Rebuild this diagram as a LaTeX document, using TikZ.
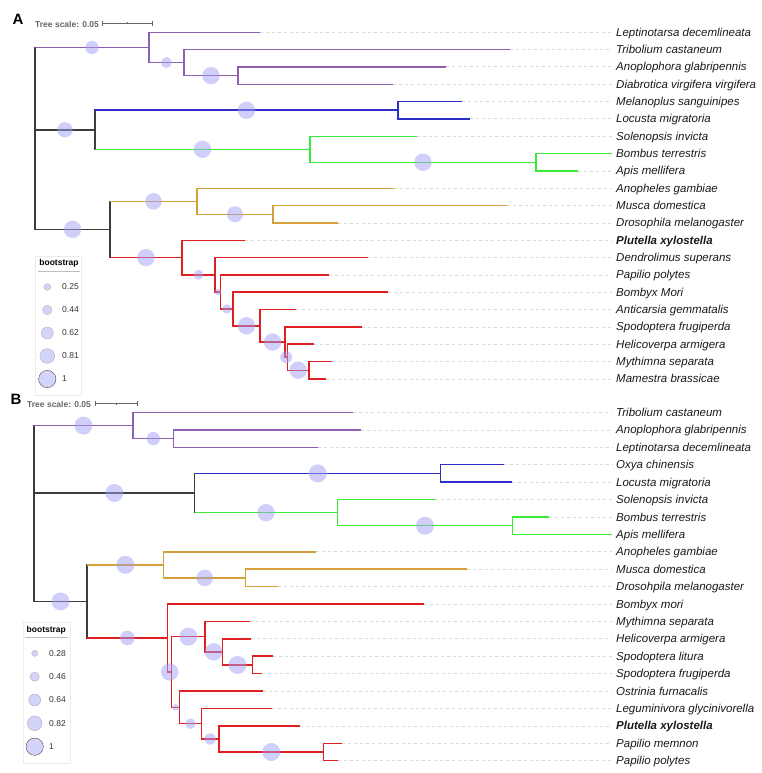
\documentclass[tikz,border=0pt]{standalone}
\usepackage{fontspec}
\setmainfont{Liberation Sans}
\usetikzlibrary{calc}
\definecolor{clpurple}{RGB}{142,95,176}
\definecolor{clblue}{RGB}{45,45,200}
\definecolor{clgreen}{RGB}{55,235,55}
\definecolor{clorange}{RGB}{212,160,58}
\definecolor{clred}{RGB}{224,32,32}
\definecolor{clstem}{RGB}{60,60,60}
\definecolor{bootfill}{RGB}{160,160,245}
\colorlet{leadgray}{gray!30}
\colorlet{scalegray}{black!60}

\begin{document}
\begin{tikzpicture}[x=1pt,y=-1pt,
    branch/.style={line width=1.5pt},
    vbranch/.style={line width=1.5pt,line cap=rect},
    leader/.style={leadgray,line width=0.8pt,dash pattern=on 3pt off 3pt},
    boot/.style={circle,inner sep=0pt,minimum size=#1,fill=bootfill,fill opacity=0.5},
    legboot/.style={circle,inner sep=0pt,minimum size=#1,fill=bootfill,fill opacity=0.45,
      draw=gray!60,draw opacity=1,line width=0.4pt},
    taxon/.style={anchor=base west,inner xsep=4pt,inner ysep=0pt,text=black!90,
      font=\fontsize{11.5}{13}\selectfont\itshape},
    scaletext/.style={anchor=west,inner sep=0pt,text=scalegray,
      font=\bfseries\fontsize{8.5}{10}\selectfont},
    legtext/.style={anchor=west,inner sep=0pt,text=black!80,font=\fontsize{8.5}{10}\selectfont},
    panel/.style={inner sep=0pt,font=\bfseries\fontsize{15}{15}\selectfont}]
  \useasboundingbox (0,0) rectangle (761,773);

  % ---------------- Panel A ----------------
  \node[panel] (labA) at (18,19) {A};
  \node[scaletext] (scA) at (35,24) {Tree scale: 0.05};
  \coordinate (sbA1) at (102,23.5);
  \coordinate (sbA2) at (152,23.5);
  \draw[scalegray,line width=0.6pt] (sbA1) -- (sbA2);
  \draw[scalegray,line width=0.6pt] ($(sbA1)+(0,-2.5)$) -- ($(sbA1)+(0,2.5)$);
  \draw[scalegray,line width=0.6pt] ($(sbA2)+(0,-2.5)$) -- ($(sbA2)+(0,2.5)$);
  \draw[scalegray,line width=0.6pt] ($(sbA1)!0.5!(sbA2)+(0,-1)$) -- ($(sbA1)!0.5!(sbA2)+(0,1)$);

  % Leaves and taxon names
  \foreach \c/\x/\y/\txt in {
      lepA/260/32.3/Leptinotarsa decemlineata,
      triA/510/49.6/Tribolium castaneum,
      anoA/446/66.9/Anoplophora glabripennis,
      diaA/393/84.3/Diabrotica virgifera virgifera,
      melA/462/101.6/Melanoplus sanguinipes,
      locA/470/118.9/Locusta migratoria,
      solA/417/136.3/Solenopsis invicta,
      bomA/612/153.6/Bombus terrestris,
      apiA/578/170.9/Apis mellifera,
      angA/394/188.3/Anopheles gambiae,
      musA/507/205.6/Musca domestica,
      droA/338/222.9/Drosophila melanogaster,
      pluA/245/240.3/\textbf{Plutella xylostella},
      denA/368/257.6/Dendrolimus superans,
      papA/329/274.9/Papilio polytes,
      bmoA/388/292.2/Bombyx Mori,
      antA/296/309.6/Anticarsia gemmatalis,
      sfrA/362/326.9/Spodoptera frugiperda,
      harA/314/344.2/Helicoverpa armigera,
      mseA/332/361.6/Mythimna separata,
      mbrA/326/378.9/Mamestra brassicae}{
    \coordinate (\c) at (\x,\y);
    \node[taxon] (t\c) at (612,\y+4) {\txt};
  }

  % Inner nodes
  \coordinate (rootA) at (35,139);
  \coordinate (pA1) at (149,47.45);
  \coordinate (pA2) at (184,62.6);
  \coordinate (pA3) at (238,75.6);
  \coordinate (kA) at (95,129.8);
  \coordinate (bA) at (398,110.25);
  \coordinate (gA1) at (310,149.3);
  \coordinate (gA2) at (536,162.25);
  \coordinate (hA) at (110,229.4);
  \coordinate (oA1) at (197,201.3);
  \coordinate (oA2) at (273,214.25);
  \coordinate (rA1) at (182,257.55);
  \coordinate (rA2) at (215,274.8);
  \coordinate (rA3) at (220.7,291.95);
  \coordinate (rA4) at (233,309);
  \coordinate (rA5) at (260,325.8);
  \coordinate (rA6) at (285,342.05);
  \coordinate (rA7) at (287.3,357.2);
  \coordinate (rA8) at (309,370.25);

  % ---------------- Panel B ----------------
  \node[panel] (labB) at (16,399) {B};
  \node[scaletext] (scB) at (27,404) {Tree scale: 0.05};
  \coordinate (sbB1) at (95,403.5);
  \coordinate (sbB2) at (137,403.5);
  \draw[scalegray,line width=0.6pt] (sbB1) -- (sbB2);
  \draw[scalegray,line width=0.6pt] ($(sbB1)+(0,-2.5)$) -- ($(sbB1)+(0,2.5)$);
  \draw[scalegray,line width=0.6pt] ($(sbB2)+(0,-2.5)$) -- ($(sbB2)+(0,2.5)$);
  \draw[scalegray,line width=0.6pt] ($(sbB1)!0.5!(sbB2)+(0,-1)$) -- ($(sbB1)!0.5!(sbB2)+(0,1)$);

  \foreach \c/\x/\y/\txt in {
      triB/353/412.5/Tribolium castaneum,
      anoB/361/429.9/Anoplophora glabripennis,
      lepB/317.7/447.3/Leptinotarsa decemlineata,
      oxyB/503.7/464.7/Oxya chinensis,
      locB/512/482.1/Locusta migratoria,
      solB/435/499.6/Solenopsis invicta,
      bomB/549.3/517/Bombus terrestris,
      apiB/612/534.4/Apis mellifera,
      angB/316/551.8/Anopheles gambiae,
      musB/466.7/569.2/Musca domestica,
      droB/278.3/586.6/Drosohpila melanogaster,
      bmoB/423.7/604/Bombyx mori,
      mseB/250/621.4/Mythimna separata,
      harB/251/638.8/Helicoverpa armigera,
      sliB/273.3/656.2/Spodoptera litura,
      sfrB/262.3/673.7/Spodoptera frugiperda,
      ostB/263/691.1/Ostrinia furnacalis,
      legB/272.3/708.5/Leguminivora glycinivorella,
      pluB/300/725.9/\textbf{Plutella xylostella},
      pmeB/342.3/743.3/Papilio memnon,
      ppoB/337.7/760.7/Papilio polytes}{
    \coordinate (\c) at (\x,\y);
    \node[taxon] (t\c) at (612,\y+4) {\txt};
  }

  \coordinate (rootB) at (34,513);
  \coordinate (pB1) at (133,425.55);
  \coordinate (pB2) at (173.7,438.6);
  \coordinate (kB) at (194.7,493);
  \coordinate (bB) at (440.7,473.4);
  \coordinate (gB1) at (337.3,512.65);
  \coordinate (gB2) at (512.7,525.7);
  \coordinate (hB) at (87,601.4);
  \coordinate (oB1) at (163.7,564.85);
  \coordinate (oB2) at (245.7,577.9);
  \coordinate (rB1) at (167.7,638);
  \coordinate (rB2) at (171.7,672);
  \coordinate (rB3) at (205,636.65);
  \coordinate (rB4) at (222.3,651.9);
  \coordinate (rB5) at (252.7,664.95);
  \coordinate (rB6) at (179.3,707.4);
  \coordinate (rB7) at (201.3,723.7);
  \coordinate (rB8) at (219,738.95);
  \coordinate (rB9) at (323.7,752);

  % Leader lines and leaf branches
  \foreach \p/\c/\col in {
      pA1/lepA/clpurple, pA2/triA/clpurple, pA3/anoA/clpurple, pA3/diaA/clpurple,
      bA/melA/clblue, bA/locA/clblue, gA1/solA/clgreen, gA2/bomA/clgreen, gA2/apiA/clgreen,
      oA1/angA/clorange, oA2/musA/clorange, oA2/droA/clorange,
      rA1/pluA/clred, rA2/denA/clred, rA3/papA/clred, rA4/bmoA/clred, rA5/antA/clred,
      rA6/sfrA/clred, rA7/harA/clred, rA8/mseA/clred, rA8/mbrA/clred,
      pB1/triB/clpurple, pB2/anoB/clpurple, pB2/lepB/clpurple,
      bB/oxyB/clblue, bB/locB/clblue, gB1/solB/clgreen, gB2/bomB/clgreen, gB2/apiB/clgreen,
      oB1/angB/clorange, oB2/musB/clorange, oB2/droB/clorange,
      rB1/bmoB/clred, rB3/mseB/clred, rB4/harB/clred, rB5/sliB/clred, rB5/sfrB/clred,
      rB6/ostB/clred, rB7/legB/clred, rB8/pluB/clred, rB9/pmeB/clred, rB9/ppoB/clred}{
    \draw[leader] (\c) -- (\c -| t\c.west);
    \draw[branch,\col] (\p |- \c) -- (\c);
  }

  % Vertical parts of the inner nodes
  \foreach \n/\t/\b/\col in {
      rootA/pA1/hA/clstem, pA1/lepA/pA2/clpurple, pA2/triA/pA3/clpurple, pA3/anoA/diaA/clpurple,
      kA/bA/gA1/clstem, bA/melA/locA/clblue, gA1/solA/gA2/clgreen, gA2/bomA/apiA/clgreen,
      hA/oA1/rA1/clstem, oA1/angA/oA2/clorange, oA2/musA/droA/clorange,
      rA1/pluA/rA2/clred, rA2/denA/rA3/clred, rA3/papA/rA4/clred, rA4/bmoA/rA5/clred,
      rA5/antA/rA6/clred, rA6/sfrA/rA7/clred, rA7/harA/rA8/clred, rA8/mseA/mbrA/clred,
      rootB/pB1/hB/clstem, pB1/triB/pB2/clpurple, pB2/anoB/lepB/clpurple,
      kB/bB/gB1/clstem, bB/oxyB/locB/clblue, gB1/solB/gB2/clgreen, gB2/bomB/apiB/clgreen,
      hB/oB1/rB1/clstem, oB1/angB/oB2/clorange, oB2/musB/droB/clorange,
      rB1/bmoB/rB2/clred, rB2/rB3/rB6/clred, rB3/mseB/rB4/clred, rB4/harB/rB5/clred,
      rB5/sliB/sfrB/clred, rB6/ostB/rB7/clred, rB7/legB/rB8/clred, rB8/pluB/rB9/clred,
      rB9/pmeB/ppoB/clred}{
    \draw[vbranch,\col] (\n |- \t) -- (\n |- \b);
  }

  % Inner branches with bootstrap circles
  \foreach \p/\c/\col/\d in {
      rootA/pA1/clpurple/13.4, pA1/pA2/clpurple/11, pA2/pA3/clpurple/17.4,
      rootA/kA/clstem/15.4, kA/bA/clblue/17.4, kA/gA1/clgreen/17.4, gA1/gA2/clgreen/17.4,
      rootA/hA/clstem/17.4, hA/oA1/clorange/16.6, oA1/oA2/clorange/16,
      hA/rA1/clred/17.4, rA1/rA2/clred/10, rA2/rA3/clred/6.6, rA3/rA4/clred/9.4,
      rA4/rA5/clred/17.4, rA5/rA6/clred/17.4, rA6/rA7/clred/12, rA7/rA8/clred/17.4,
      rootB/pB1/clpurple/18, pB1/pB2/clpurple/13.4,
      rootB/kB/clstem/18, kB/bB/clblue/18, kB/gB1/clgreen/17.4, gB1/gB2/clgreen/18,
      rootB/hB/clstem/18, hB/oB1/clorange/18, oB1/oB2/clorange/16.6,
      hB/rB1/clred/14.6, rB1/rB2/clred/17.4, rB2/rB3/clred/18, rB3/rB4/clred/17.4,
      rB4/rB5/clred/18, rB2/rB6/clred/6.6, rB6/rB7/clred/10.6, rB7/rB8/clred/11.4,
      rB8/rB9/clred/18}{
    \draw[branch,\col] (\p |- \c) -- node[boot=\d pt] (bs\c) {} (\c);
  }

  % Legends
  \draw[gray!15,line width=0.5pt] (35.7,256.7) rectangle (81.7,395);
  \node[inner sep=0pt,font=\bfseries\fontsize{8.5}{10}\selectfont] (legA) at (59,263) {bootstrap};
  \draw[gray!50,line width=0.8pt] (37.7,271) -- (80,271);
  \foreach \v/\d [count=\i] in {0.25/6.7, 0.44/9.3, 0.62/12, 0.81/14.7}{
    \node[legboot=\d pt] (lcA\i) at (47.3,264+23*\i) {};
    \node[legtext] (lvA\i) at (62,264+23*\i) {\v};
  }
  \node[legboot=17.3pt,draw=black!70] (lcA5) at (47.3,379) {};
  \node[legtext] (lvA5) at (62,379) {1};

  \draw[gray!15,line width=0.5pt] (23,622.7) rectangle (70,763);
  \node[inner sep=0pt,font=\bfseries\fontsize{8.5}{10}\selectfont] (legB) at (46.3,630) {bootstrap};
  \draw[gray!50,line width=0.8pt] (25,637.7) -- (67.7,637.7);
  \foreach \v/\d [count=\i] in {0.28/6, 0.46/9.3, 0.64/12, 0.82/14.7}{
    \node[legboot=\d pt] (lcB\i) at (34.7,630+23.33*\i) {};
    \node[legtext] (lvB\i) at (49,630+23.33*\i) {\v};
  }
  \node[legboot=17.3pt,draw=black!70] (lcB5) at (34.7,746.7) {};
  \node[legtext] (lvB5) at (49,746.7) {1};
\end{tikzpicture}
\end{document}
